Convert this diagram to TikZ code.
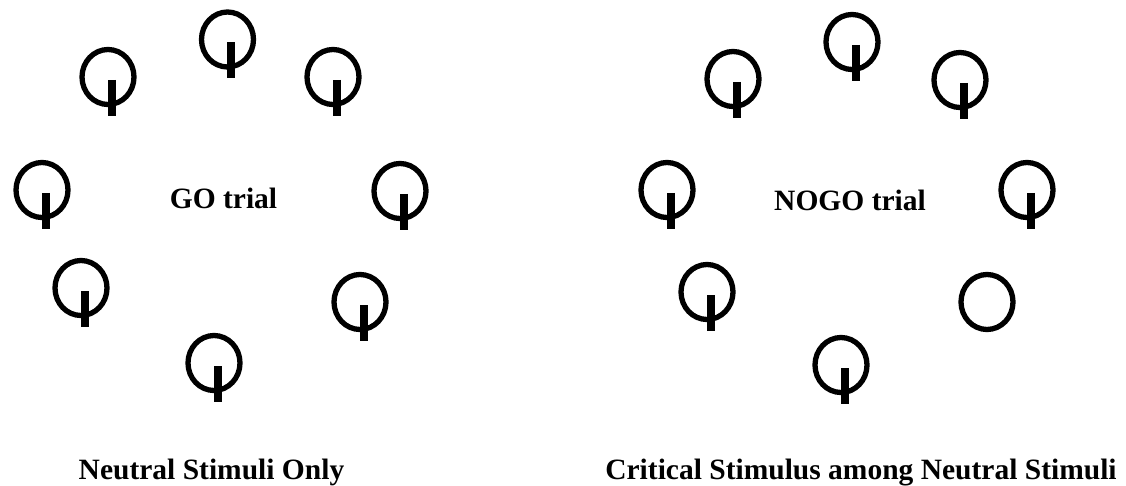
\documentclass[tikz,border=0pt]{standalone}
\usepackage{fontspec}
\setmainfont{Liberation Serif}
\begin{document}
\begin{tikzpicture}[x=1pt,y=-1pt,
  ring/.style={line width=5.3pt},
  stembar/.style={line width=8pt},
  label/.style={font=\fontsize{29.5}{34}\selectfont\bfseries, inner sep=0pt, anchor=base},
  stimulus/.pic={
    \draw[ring] (0,0) ellipse [x radius=26pt, y radius=27.5pt];
    \draw[stembar] (3.5,3) -- (3.5,39);
  },
  plainstim/.pic={
    \draw[ring] (0,0) ellipse [x radius=26pt, y radius=27.5pt];
  }]
\useasboundingbox (0,0) rectangle (1126,486);

% GO trial: eight neutral stimuli
\pic (g1) at (227.5,39.5) {stimulus};
\pic (g2) at (108,77) {stimulus};
\pic (g3) at (333,77) {stimulus};
\pic (g4) at (42,190) {stimulus};
\pic (g5) at (400,191) {stimulus};
\pic (g6) at (81,288) {stimulus};
\pic (g7) at (360,302) {stimulus};
\pic (g8) at (214,363) {stimulus};
\node[label] (go) at (223.5,209) {GO trial};
\node[label] (golab) at (211.5,479) {Neutral Stimuli Only};

% NOGO trial: seven neutral stimuli and one critical stimulus
\pic (n1) at (852,42) {stimulus};
\pic (n2) at (733,79) {stimulus};
\pic (n3) at (960,80) {stimulus};
\pic (n4) at (667,190) {stimulus};
\pic (n5) at (1027,190) {stimulus};
\pic (n6) at (707,292) {stimulus};
\pic (n7) at (987,302) {plainstim};
\pic (n8) at (841,365) {stimulus};
\node[label] (nogo) at (850,211) {NOGO trial};
\node[label] (nogolab) at (861,479) {Critical Stimulus among Neutral Stimuli};
\end{tikzpicture}
\end{document}
